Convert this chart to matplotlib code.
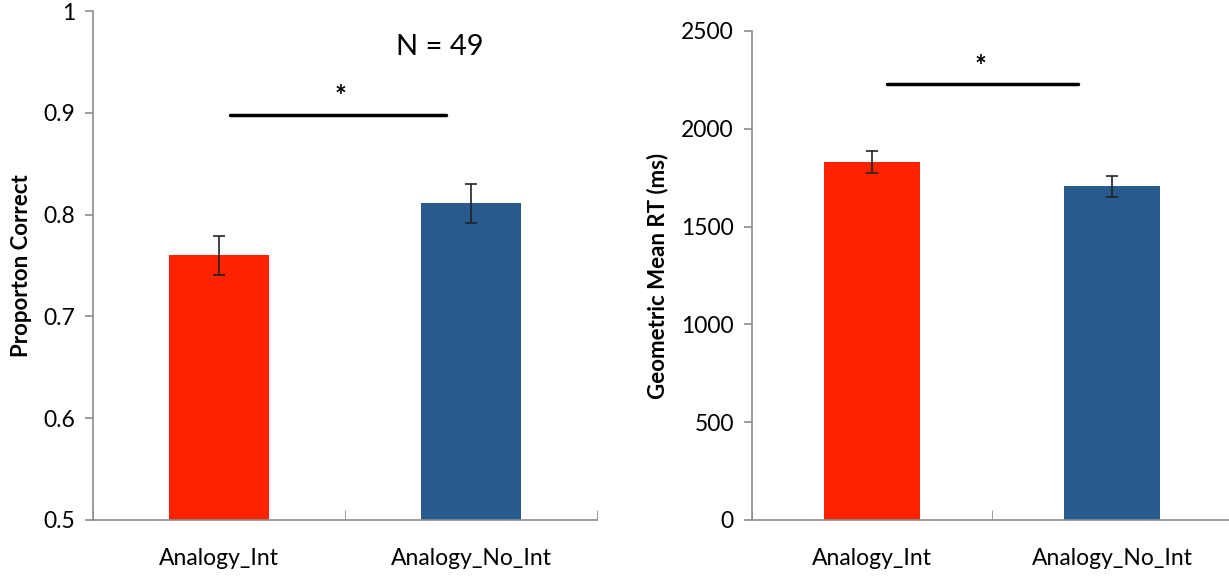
import matplotlib.pyplot as plt
import numpy as np

conditions = ['Analogy_Int', 'Analogy_No_Int']
bar_colors = ['#FF2200', '#285A8E']

# accuracy (proportion correct) with standard errors
acc_mean = [0.760, 0.811]
acc_se = [0.019, 0.019]

# geometric mean reaction time (ms) with standard errors
rt_mean = [1830, 1706]
rt_se = [58, 53]

n_subjects = 49

plt.rcParams['font.family'] = ['Lato', 'DejaVu Sans']
axis_grey = '#8c8c8c'

fig = plt.figure(figsize=(12.29, 5.77), dpi=100)
ax1 = fig.add_axes([0.0757, 0.0988, 0.410, 0.882])
ax2 = fig.add_axes([0.6119, 0.0988, 0.3906, 0.8475])


def style_axes(ax):
    for side in ['top', 'right']:
        ax.spines[side].set_visible(False)
    for side in ['left', 'bottom']:
        ax.spines[side].set_color(axis_grey)
        ax.spines[side].set_linewidth(1.2)
    x = np.arange(len(conditions))
    ax.set_xlim(-0.5, len(conditions) - 0.5)
    ax.set_xticks(x)
    ax.set_xticklabels(conditions, fontsize=16.5)
    ax.tick_params(axis='x', which='major', length=0, pad=20)
    ax.set_xticks(np.arange(len(conditions) + 1) - 0.5, minor=True)
    ax.tick_params(axis='x', which='minor', length=7, color=axis_grey, direction='in')
    ax.tick_params(axis='y', length=6, color=axis_grey, width=1.2, labelsize=16.5, pad=7)


x = np.arange(len(conditions))

# left: accuracy
ax1.bar(x, [m - 0.5 for m in acc_mean], bottom=0.5, width=0.4, color=bar_colors)
ax1.errorbar(x, acc_mean, yerr=acc_se, fmt='none', ecolor='#222222', elinewidth=1.2, capsize=4, capthick=1.2)
ax1.set_ylim(0.5, 1.0)
ax1.set_yticks([0.5, 0.6, 0.7, 0.8, 0.9, 1.0])
ax1.set_yticklabels(['0.5', '0.6', '0.7', '0.8', '0.9', '1'])
style_axes(ax1)
ax1.set_ylabel('Proporton Correct', fontsize=16, fontweight='bold', labelpad=8)
ax1.plot([0.0435, 0.9], [0.898, 0.898], color='black', lw=2.5, solid_capstyle='round')
ax1.text(0.483, 0.903, '*', ha='center', va='bottom', fontsize=20, fontweight='bold')
ax1.text(0.877, 0.965, f'N = {n_subjects}', ha='center', va='center', fontsize=21)

# right: reaction time
ax2.bar(x, rt_mean, width=0.4, color=bar_colors)
ax2.errorbar(x, rt_mean, yerr=rt_se, fmt='none', ecolor='#222222', elinewidth=1.2, capsize=4, capthick=1.2)
ax2.set_ylim(0, 2500)
ax2.set_yticks([0, 500, 1000, 1500, 2000, 2500])
style_axes(ax2)
ax2.set_ylabel('Geometric Mean RT (ms)', fontsize=16, fontweight='bold', labelpad=9)
ax2.plot([0.0625, 0.858], [2230, 2230], color='black', lw=2.5, solid_capstyle='round')
ax2.text(0.45, 2250, '*', ha='center', va='bottom', fontsize=20, fontweight='bold')

fig.savefig('out.png', dpi=100)
